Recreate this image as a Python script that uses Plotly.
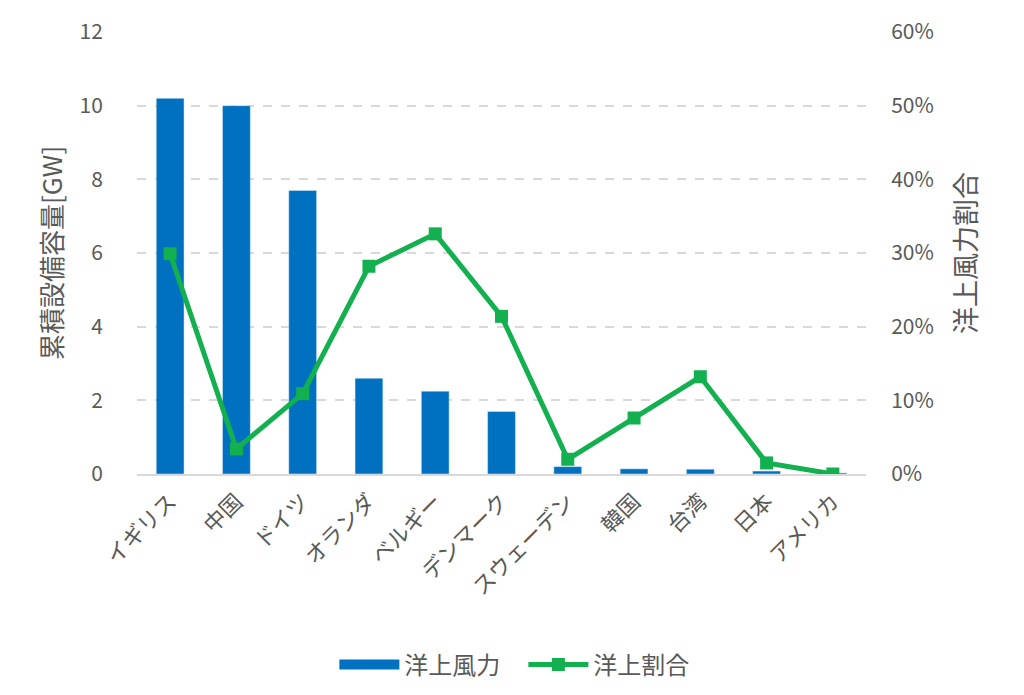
import plotly.graph_objects as go

categories = ["イギリス", "中国", "ドイツ", "オランダ", "ベルギー", "デンマーク",
              "スウェーデン", "韓国", "台湾", "日本", "アメリカ"]
capacity_gw = [10.2, 10.0, 7.7, 2.6, 2.25, 1.7, 0.2, 0.14, 0.13, 0.08, 0.03]
share_pct = [29.9, 3.4, 10.9, 28.2, 32.6, 21.4, 2.0, 7.6, 13.2, 1.5, 0.0]

FONT = "Noto Sans CJK JP"
GRAY = "#595959"
BLUE = "#0070C0"
GREEN = "#13B04F"

fig = go.Figure()
fig.add_trace(go.Bar(
    x=categories, y=capacity_gw, name="洋上風力",
    marker=dict(color=BLUE), yaxis="y", showlegend=False,
))
# legend proxy for the bar series (wide rectangle swatch)
fig.add_trace(go.Scatter(
    x=[None], y=[None], name="洋上風力", mode="lines",
    line=dict(color=BLUE, width=16), yaxis="y",
))
fig.add_trace(go.Scatter(
    x=categories, y=[v / 100 for v in share_pct], name="洋上割合",
    mode="lines+markers", yaxis="y2",
    line=dict(color=GREEN, width=5),
    marker=dict(symbol="square", size=13, color=GREEN),
))

# page has an 8px body margin, so the figure is shrunk by that amount
fig.update_layout(
    width=1016, height=687,
    paper_bgcolor="white", plot_bgcolor="white",
    margin=dict(l=129, r=158, t=24, b=221, autoexpand=False),
    font=dict(family=FONT, color=GRAY, size=20),
    bargap=0.58,
    showlegend=True,
    legend=dict(orientation="h", x=0.530, xanchor="center", y=-0.432, yanchor="middle",
                font=dict(size=24, color=GRAY), traceorder="normal", itemwidth=60,
                entrywidth=114, entrywidthmode="pixels"),
    xaxis=dict(
        range=[-0.5, 10.5],
        tickangle=-45, tickfont=dict(size=22, color=GRAY),
        showline=True, linecolor="#d9d9d9", linewidth=2,
        showgrid=False, ticks="outside", ticklen=4, tickcolor="rgba(0,0,0,0)",
        automargin=False,
    ),
    yaxis=dict(
        range=[0, 12], dtick=2, tickfont=dict(size=21, color=GRAY),
        showgrid=True, gridcolor="#d9d9d9", griddash="dash", gridwidth=1.5,
        zeroline=False, ticks="outside", ticklen=29, tickcolor="rgba(0,0,0,0)",
        showline=False, automargin=False,
    ),
    yaxis2=dict(
        range=[0, 0.6], dtick=0.1, tickformat=".0%", overlaying="y", side="right",
        tickfont=dict(size=21, color=GRAY),
        showgrid=False, zeroline=False, ticks="outside", ticklen=20,
        tickcolor="rgba(0,0,0,0)", automargin=False,
    ),
    annotations=[
        dict(text="累積設備容量[GW]", xref="paper", yref="paper",
             x=(50 - 137) / 729, y=0.5, textangle=-90, showarrow=False,
             font=dict(size=26, color=GRAY), xanchor="center", yanchor="middle"),
        dict(text="洋上風力割合", xref="paper", yref="paper",
             x=(964 - 137) / 729, y=0.5, textangle=-90, showarrow=False,
             font=dict(size=27, color=GRAY), xanchor="center", yanchor="middle"),
    ],
)

fig.write_html("out.html")
